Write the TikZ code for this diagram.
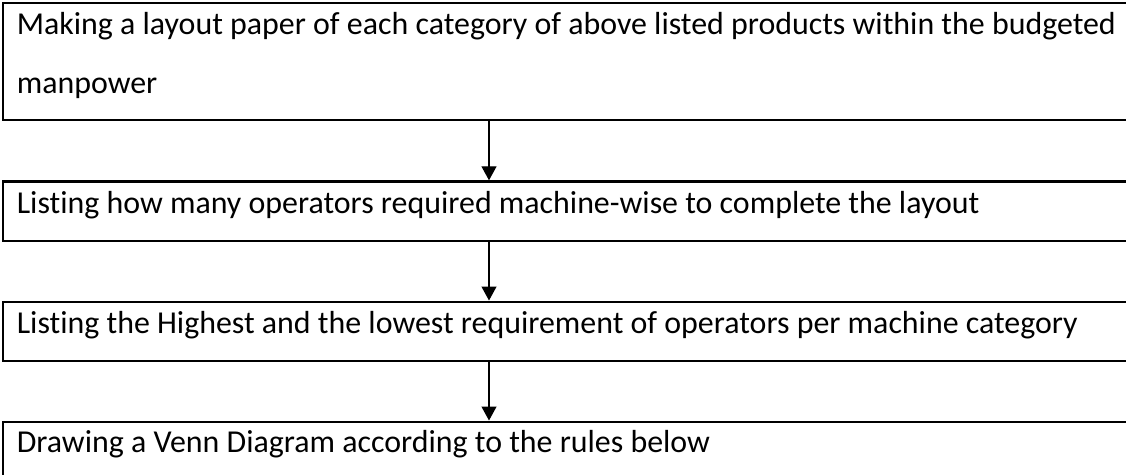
\documentclass[tikz,border=0pt]{standalone}
\usepackage{fontspec}
\setmainfont{Carlito}[Ligatures={NoCommon}]
\usetikzlibrary{arrows.meta}
\hyphenpenalty=10000
\exhyphenpenalty=10000

\tikzset{
  stepbox/.style={draw, line width=2.6pt, anchor=north west,
    inner xsep=14pt, inner ysep=0pt, text width=1160pt, align=flush left,
    font=\fontsize{31.9pt}{58.4pt}\selectfont},
  flow/.style={line width=1.2pt, -{Triangle[width=15pt,length=14pt]}}
}

\begin{document}
\begin{tikzpicture}[x=1pt,y=1pt]
  \useasboundingbox (0,0) rectangle (1126,-474);
  \clip (0,0) rectangle (1126,-474);

  % process steps, stacked top to bottom
  \node[stepbox, text height=31.8pt, text depth=85.2pt] (b1) at (1.5,-1.5)
    {Making a layout paper of each category of above listed products within the budgeted\\manpower};
  \node[stepbox, text height=31.4pt, text depth=27.8pt] (b2) at (1.5,-180.3)
    {Listing how many operators required machine-wise to complete the layout};
  \node[stepbox, text height=31.2pt, text depth=27.8pt] (b3) at (1.5,-300.5)
    {Listing the Highest and the lowest requirement of operators per machine category};
  \node[stepbox, text height=30.5pt, text depth=30pt] (b4) at (1.5,-420.5)
    {Drawing a Venn Diagram according to the rules below};

  % vertical line on which the connectors run
  \coordinate (axis) at (489,0);

  \draw[flow] (b1.south -| axis) -- (b2.north -| axis);
  \draw[flow] (b2.south -| axis) -- (b3.north -| axis);
  \draw[flow] (b3.south -| axis) -- (b4.north -| axis);
\end{tikzpicture}
\end{document}
